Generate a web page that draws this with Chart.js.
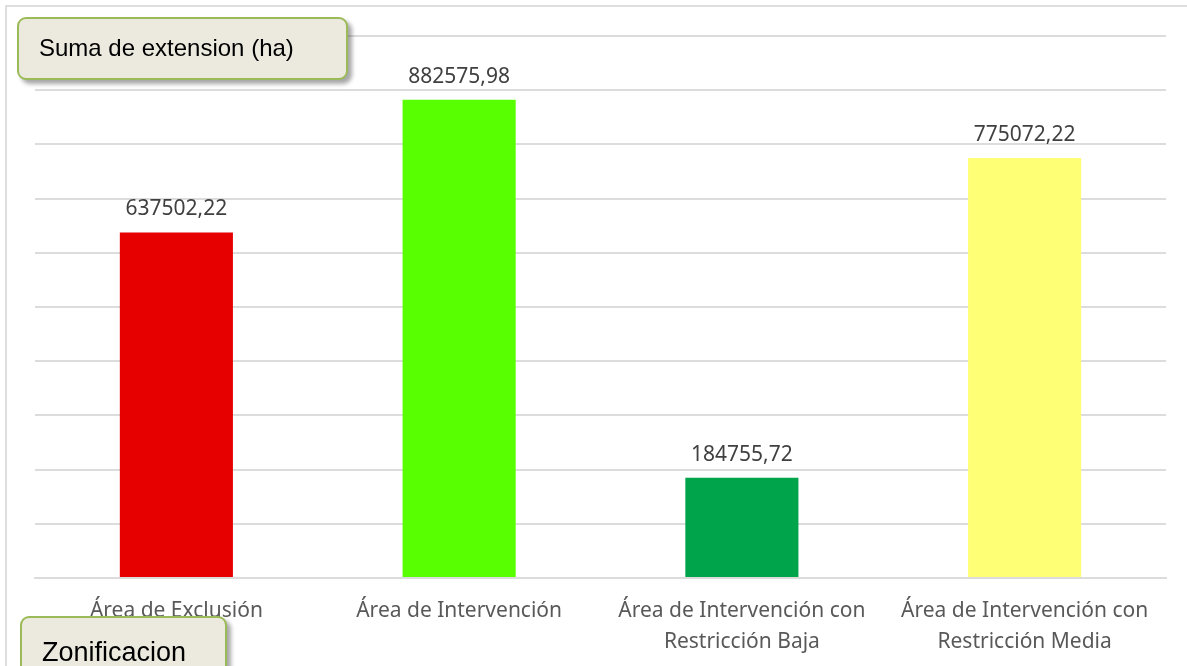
<!DOCTYPE html>
<html>
<head>
<meta charset="utf-8">
<script src="https://cdn.jsdelivr.net/npm/chart.js@4"></script>
<style>
  html, body { margin: 0; padding: 0; background: #fff; overflow: hidden; }
  #wrap { position: relative; width: 1187px; height: 666px; }
  #frame { position: absolute; left: 5px; top: 5px; width: 1190px; height: 700px; border: 2px solid #dedede; box-sizing: border-box; }
  .tag {
    position: absolute; background: #eceadf; border: 2px solid #9bbb59; border-radius: 9px;
    font-family: "Liberation Sans", Arial, sans-serif; color: #000;
    box-shadow: 4px 4px 4px rgba(0,0,0,0.35); box-sizing: border-box; padding-left: 20px;
  }
</style>
</head>
<body>
<div id="wrap">
  <div id="frame"></div>
  <canvas id="chart" width="1187" height="666" style="position:absolute;left:0;top:0"></canvas>
  <div class="tag" style="left:17px;top:17px;width:331px;height:63px;line-height:58px;font-size:24px;">Suma de extension (ha)</div>
  <div class="tag" style="left:20px;top:616px;width:207px;height:70px;line-height:68px;font-size:27px;">Zonificacion</div>
</div>
<script>
// datos
let categorias = [
    ['Área de Exclusión'],
    ['Área de Intervención'],
    ['Área de Intervención con', 'Restricción Baja'],
    ['Área de Intervención con', 'Restricción Media']
];
let valores = [637502.22, 882575.98, 184755.72, 775072.22];
let colores = ['#e60000', '#58ff00', '#00a44a', '#ffff75'];

// etiquetas de valor encima de cada barra
let etiquetas = {
    id: 'etiquetas',
    afterDatasetsDraw(chart) {
        let ctx = chart.ctx;
        let meta = chart.getDatasetMeta(0);
        ctx.save();
        ctx.font = '21px "Noto Sans", sans-serif';
        ctx.fillStyle = '#404040';
        ctx.textAlign = 'center';
        ctx.textBaseline = 'middle';
        meta.data.forEach((bar, i) => {
            let txt = valores[i].toFixed(2).replace('.', ',');
            ctx.fillText(txt, bar.x, bar.y - 23);
        });
        ctx.restore();
    }
};

let ctx = document.getElementById('chart').getContext('2d');
let chart = new Chart(ctx, {
    type: 'bar',
    data: {
        labels: categorias,
        datasets: [{
            label: 'Suma de extension (ha)',
            data: valores,
            backgroundColor: colores,
            borderWidth: 0,
            barPercentage: 0.4,
            categoryPercentage: 1.0
        }]
    },
    options: {
        responsive: false,
        animation: false,
        layout: {
            padding: { left: 35, right: 21, top: 36, bottom: -2 }
        },
        plugins: {
            legend: { display: false },
            tooltip: { enabled: false }
        },
        scales: {
            y: {
                min: 0,
                max: 1000000,
                ticks: { display: false, stepSize: 100000 },
                grid: { color: '#dcdcdc', lineWidth: 2, drawTicks: false },
                border: { display: false }
            },
            x: {
                grid: { display: false },
                border: { color: '#dcdcdc', width: 2 },
                ticks: {
                    color: '#595959',
                    font: { family: '"Noto Sans", sans-serif', size: 21, lineHeight: 1.476 },
                    padding: 10,
                    maxRotation: 0
                }
            }
        }
    },
    plugins: [etiquetas]
});
</script>
</body>
</html>
